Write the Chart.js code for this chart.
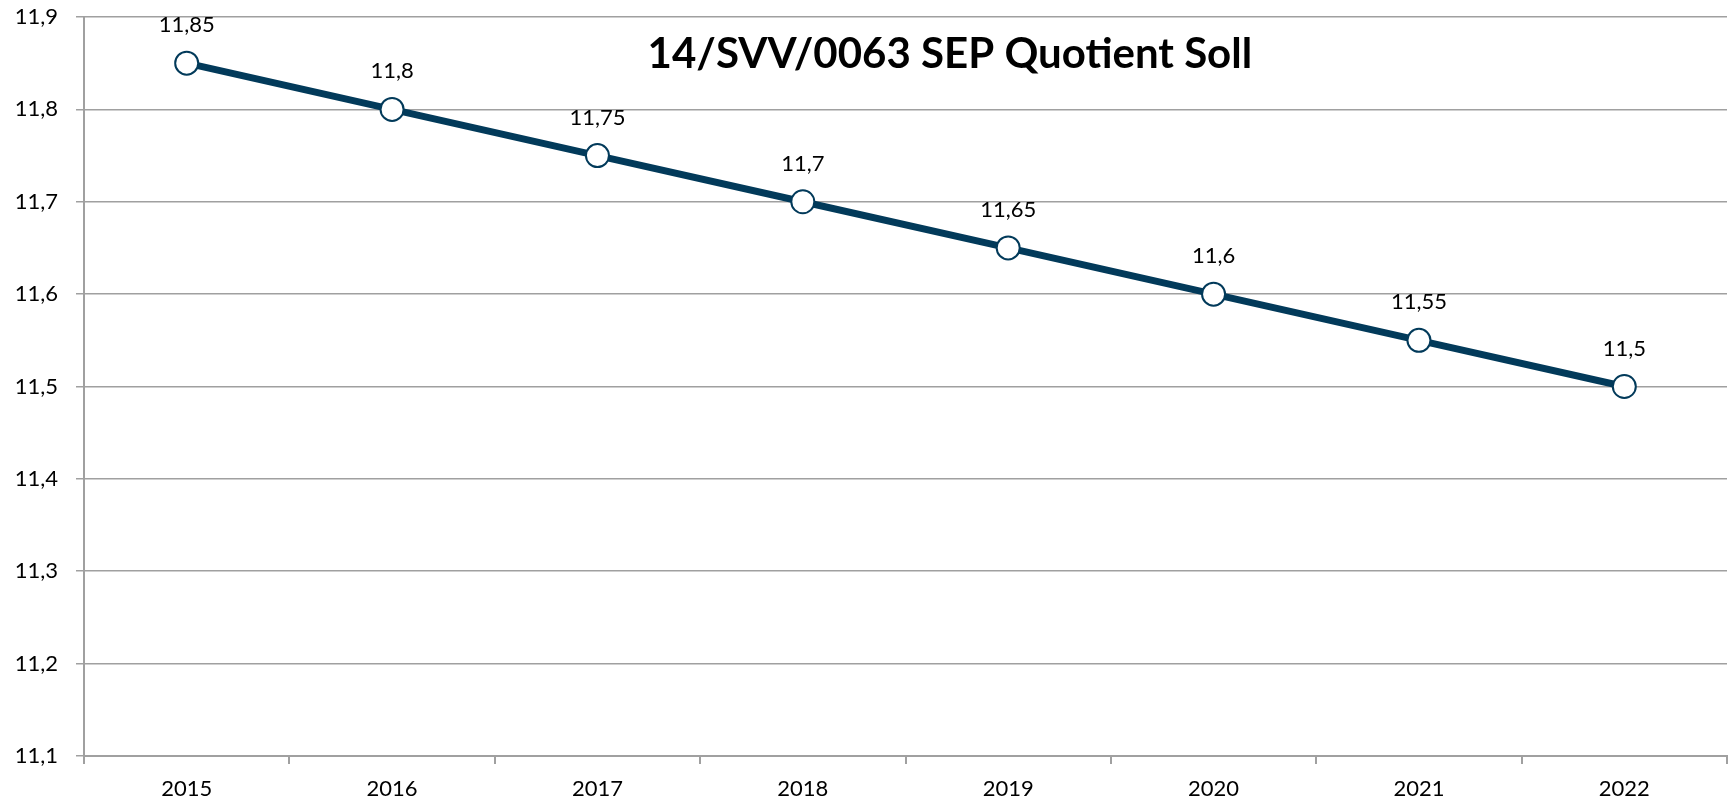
<!DOCTYPE html>
<html>
<head>
<meta charset="utf-8">
<script src="https://cdn.jsdelivr.net/npm/chart.js@4/dist/chart.umd.min.js"></script>
<style>
  html, body { margin: 0; padding: 0; background: #fff; }
  #wrap { width: 1731px; height: 804px; }
</style>
</head>
<body>
<div id="wrap"><canvas id="chart" width="1731" height="804"></canvas></div>
<script>
const TITLE = "14/SVV/0063 SEP Quotient Soll";
const YEARS = ["2015", "2016", "2017", "2018", "2019", "2020", "2021", "2022"];
const QUOTIENT = [11.85, 11.8, 11.75, 11.7, 11.65, 11.6, 11.55, 11.5];
const Y_MIN = 11.1;
const Y_MAX = 11.9;
const Y_STEP = 0.1;

const LINE_COLOR = "#023a5a";
const GRID_COLOR = "#a0a0a0";
const FONT = "Lato, 'Open Sans', sans-serif";

function fmt(v) {
  return String(+v.toFixed(2)).replace(".", ",");
}

// values above the points + title inside the plot area
const labelsPlugin = {
  id: "labels",
  afterDatasetsDraw(chart) {
    const ctx = chart.ctx;
    const meta = chart.getDatasetMeta(0);
    ctx.save();
    ctx.fillStyle = "#000";
    ctx.font = "22px " + FONT;
    ctx.textAlign = "center";
    ctx.textBaseline = "middle";
    meta.data.forEach((pt, i) => {
      ctx.fillText(fmt(QUOTIENT[i]), pt.x, pt.y - 38);
    });
    ctx.font = "bold 42px " + FONT;
    ctx.textBaseline = "alphabetic";
    const area = chart.chartArea;
    ctx.fillText(TITLE, area.left + (area.right - area.left) * 0.527, area.top + 51);
    ctx.restore();
  },
};

new Chart(document.getElementById("chart"), {
  type: "line",
  data: {
    labels: YEARS,
    datasets: [
      {
        data: QUOTIENT,
        borderColor: LINE_COLOR,
        borderWidth: 7,
        pointRadius: 11.5,
        pointHoverRadius: 11.5,
        pointBackgroundColor: "#fff",
        pointBorderColor: LINE_COLOR,
        pointBorderWidth: 2,
        tension: 0,
        fill: false,
        clip: false,
      },
    ],
  },
  options: {
    responsive: false,
    animation: false,
    layout: { autoPadding: false, padding: { top: 17, right: 4, left: 0, bottom: 0 } },
    plugins: {
      legend: { display: false },
      tooltip: { enabled: false },
    },
    scales: {
      x: {
        offset: true,
        grid: {
          offset: true,
          drawOnChartArea: false,
          drawTicks: true,
          tickLength: 8,
          color: GRID_COLOR,
          lineWidth: 2,
        },
        border: { color: GRID_COLOR, width: 2 },
        ticks: {
          color: "#000",
          font: { family: FONT, size: 22 },
          padding: 12,
          maxRotation: 0,
        },
        afterFit(scale) {
          scale.height = 48;
          scale.paddingLeft = 0;
          scale.paddingRight = 0;
        },
      },
      y: {
        min: Y_MIN,
        max: Y_MAX,
        ticks: {
          stepSize: Y_STEP,
          color: "#000",
          font: { family: FONT, size: 22 },
          padding: 18,
          callback: (v) => fmt(v),
        },
        grid: {
          color: GRID_COLOR,
          lineWidth: 1.5,
          tickLength: 8,
        },
        border: { color: GRID_COLOR, width: 2 },
        afterFit(scale) {
          scale.width = 84;
          scale.paddingTop = 0;
          scale.paddingBottom = 0;
        },
      },
    },
  },
  plugins: [labelsPlugin],
});
</script>
</body>
</html>
